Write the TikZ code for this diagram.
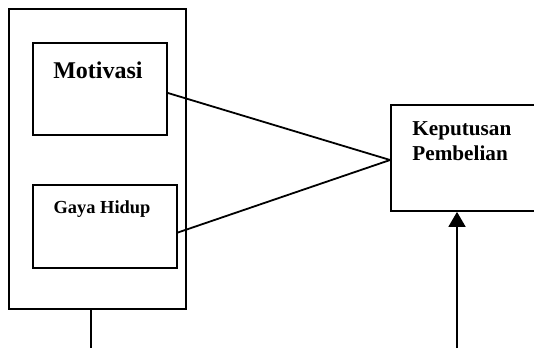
\documentclass[tikz,border=0pt]{standalone}
\usepackage{fontspec}
\setmainfont{Liberation Serif}
\usetikzlibrary{arrows.meta,positioning}

\begin{document}
\begin{tikzpicture}[x=0.5pt,y=-0.5pt,
    box/.style={draw, line width=0.9pt, inner sep=0pt},
    lbl/.style={font=\bfseries, inner sep=0pt},
    link/.style={line width=0.9pt}]
    \useasboundingbox (0,0) rectangle (534,348);
    % kotak variabel bebas
    \node[box, minimum width=88.5pt, minimum height=150pt] (outer) at (97.5,159) {};
    \node[box, minimum width=67pt, minimum height=46pt] (motiv) at (100,89) {};
    \node[box, minimum width=72pt, minimum height=41.5pt] (gaya) at (105,226.5) {};
    \node[lbl, anchor=base, font=\fontsize{12}{14}\bfseries] (tmotiv) at (98,78) {Motivasi};
    \node[lbl, anchor=base, font=\fontsize{9.2}{11}\bfseries] (tgaya) at (102,213) {Gaya Hidup};
    % variabel terikat
    \node[box, minimum width=77pt, minimum height=53pt] (kep) at (468,158) {};
    \node[lbl, anchor=base west, align=left, font=\fontsize{10.6}{12.5}\bfseries] (tkep) at (412,160) {Keputusan\\Pembelian};
    \draw[link] ([yshift=-2pt]motiv.east) -- ([yshift=-1pt]kep.west);
    \draw[link] ([yshift=-3pt]gaya.east) -- ([yshift=-1pt]kep.west);
    \coordinate (foot) at (91,348);
    \coordinate (arrfoot) at (457,348);
    \draw[link] (foot |- outer.south) -- (foot);
    \draw[link, -{Triangle[width=8.5pt,length=7.5pt]}] (arrfoot) -- (arrfoot |- kep.south);
\end{tikzpicture}
\end{document}
